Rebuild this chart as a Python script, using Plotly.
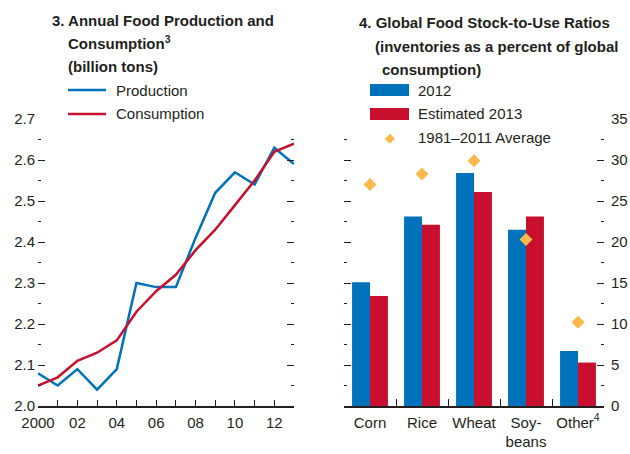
import plotly.graph_objects as go

# ---------------- data ----------------
years = list(range(2000, 2014))
production = [2.08, 2.05, 2.09, 2.04, 2.09, 2.30, 2.29, 2.29, 2.41, 2.52, 2.57, 2.54, 2.63, 2.59]
consumption = [2.05, 2.07, 2.11, 2.13, 2.16, 2.23, 2.28, 2.32, 2.38, 2.43, 2.49, 2.55, 2.62, 2.64]

crops = ["Corn", "Rice", "Wheat", "Soy-<br>beans", "Other<sup>4</sup>"]
stock_2012 = [15.1, 23.1, 28.4, 21.5, 6.7]
stock_2013 = [13.4, 22.1, 26.1, 23.1, 5.3]
avg_1981_2011 = [27.0, 28.3, 29.9, 20.3, 10.2]

year_ticks = [2000, 2002, 2004, 2006, 2008, 2010, 2012]
year_ticktext = ["2000", "02", "04", "06", "08", "10", "12"]

# ---------------- style ----------------
FONT = "Liberation Sans, Arial, sans-serif"
TXT = "#231f20"
BLUE = "#0072bc"
RED = "#c8102e"
ORANGE = "#fdb94e"
W, H = 630, 454

def px(x):
    return x / W

def py(y):
    return 1 - y / H

fig = go.Figure()

fig.add_trace(go.Scatter(x=years, y=production, mode="lines", line=dict(color=BLUE, width=2.5),
                         xaxis="x", yaxis="y", showlegend=False))
fig.add_trace(go.Scatter(x=years, y=consumption, mode="lines", line=dict(color=RED, width=2.5),
                         xaxis="x", yaxis="y", showlegend=False))

fig.add_trace(go.Bar(x=crops, y=stock_2012, marker=dict(color=BLUE, line=dict(width=0)),
                     xaxis="x2", yaxis="y2", showlegend=False))
fig.add_trace(go.Bar(x=crops, y=stock_2013, marker=dict(color=RED, line=dict(width=0)),
                     xaxis="x2", yaxis="y2", showlegend=False))
fig.add_trace(go.Scatter(x=crops, y=avg_1981_2011, mode="markers",
                         marker=dict(symbol="diamond", size=10, color=ORANGE),
                         xaxis="x2", yaxis="y2", showlegend=False))

ydom = [py(406), py(119)]

fig.update_layout(
    width=W, height=H,
    margin=dict(l=0, r=0, t=0, b=0, autoexpand=False),
    paper_bgcolor="white", plot_bgcolor="white",
    font=dict(family=FONT, size=15, color=TXT),
    barmode="group", bargap=0.31, bargroupgap=0,
    xaxis=dict(domain=[px(38), px(294)], range=[2000, 2013], showgrid=False, zeroline=False,
               showline=True, linecolor=TXT, linewidth=1.5,
               tickmode="array", tickvals=year_ticks, ticktext=year_ticktext,
               ticks="inside", ticklen=6, tickcolor=TXT, tickwidth=1.2, tickangle=0,
               minor=dict(dtick=1, tick0=2000, ticks="inside", ticklen=6, tickcolor=TXT, tickwidth=1.2),
               anchor="y", automargin=False, ticklabelstandoff=2),
    yaxis=dict(domain=ydom, range=[2.0, 2.7], showgrid=False, zeroline=False, showline=False,
               dtick=0.1, tick0=2.0, tickformat=".1f",
               ticks="inside", ticklen=7, tickcolor=TXT, tickwidth=1.2, mirror="ticks",
               minor=dict(dtick=0.05, tick0=2.0, ticks="inside", ticklen=3, tickcolor=TXT, tickwidth=1.2),
               anchor="x", ticklabelstandoff=2, automargin=False),
    xaxis2=dict(domain=[px(344), px(604)], range=[-0.5, 4.5], showgrid=False, zeroline=False,
                showline=True, linecolor=TXT, linewidth=1.5,
                ticks="inside", tickson="boundaries", ticklen=7, tickcolor=TXT, tickwidth=1.2,
                tickangle=0, anchor="y2", automargin=False, ticklabelstandoff=2),
    yaxis2=dict(domain=ydom, range=[0, 35], side="right", showgrid=False, zeroline=False, showline=False,
                dtick=5, tick0=0, ticks="inside", ticklen=7, tickcolor=TXT, tickwidth=1.2, mirror="ticks",
                minor=dict(dtick=2.5, tick0=0, ticks="inside", ticklen=3, tickcolor=TXT, tickwidth=1.2),
                anchor="x2", ticklabelstandoff=6, automargin=False),
)

# titles
TFONT = dict(family=FONT, size=15, color=TXT, weight="bold")
def note(text, x, y, font=None):
    fig.add_annotation(text=text, x=px(x), y=py(y), xref="paper", yref="paper",
                       xanchor="left", yanchor="middle", showarrow=False,
                       font=font or dict(family=FONT, size=15, color=TXT))

note("3. Annual Food Production and", 50, 20, TFONT)
note("Consumption<sup>3</sup>", 66, 43, TFONT)
note("(billion tons)", 66, 66, TFONT)
note("4. Global Food Stock-to-Use Ratios", 357, 22, TFONT)
note("(inventories as a percent of global", 373, 46, TFONT)
note("consumption)", 380, 70, TFONT)

# legends (manual)
fig.add_shape(type="line", xref="paper", yref="paper", x0=px(68), x1=px(106), y0=py(90), y1=py(90),
              line=dict(color=BLUE, width=2.5))
fig.add_shape(type="line", xref="paper", yref="paper", x0=px(68), x1=px(106), y0=py(114), y1=py(114),
              line=dict(color=RED, width=2.5))
note("Production", 114, 90)
note("Consumption", 114, 114)

fig.add_shape(type="rect", xref="paper", yref="paper", x0=px(370), x1=px(409), y0=py(96), y1=py(84),
              line=dict(width=0), fillcolor=BLUE)
fig.add_shape(type="rect", xref="paper", yref="paper", x0=px(370), x1=px(409), y0=py(120), y1=py(108),
              line=dict(width=0), fillcolor=RED)
note("2012", 416, 90)
note("Estimated 2013", 416, 114)
fig.add_annotation(text="\u25c6", x=px(390), y=py(138), xref="paper", yref="paper",
                   xanchor="center", yanchor="middle", showarrow=False,
                   font=dict(family="DejaVu Sans", size=13, color=ORANGE))
note("1981\u20132011 Average", 416, 138)

fig.write_html("out.html", config={"displayModeBar": False},
               post_script="document.body.style.margin='0';document.body.style.overflow='hidden';")
